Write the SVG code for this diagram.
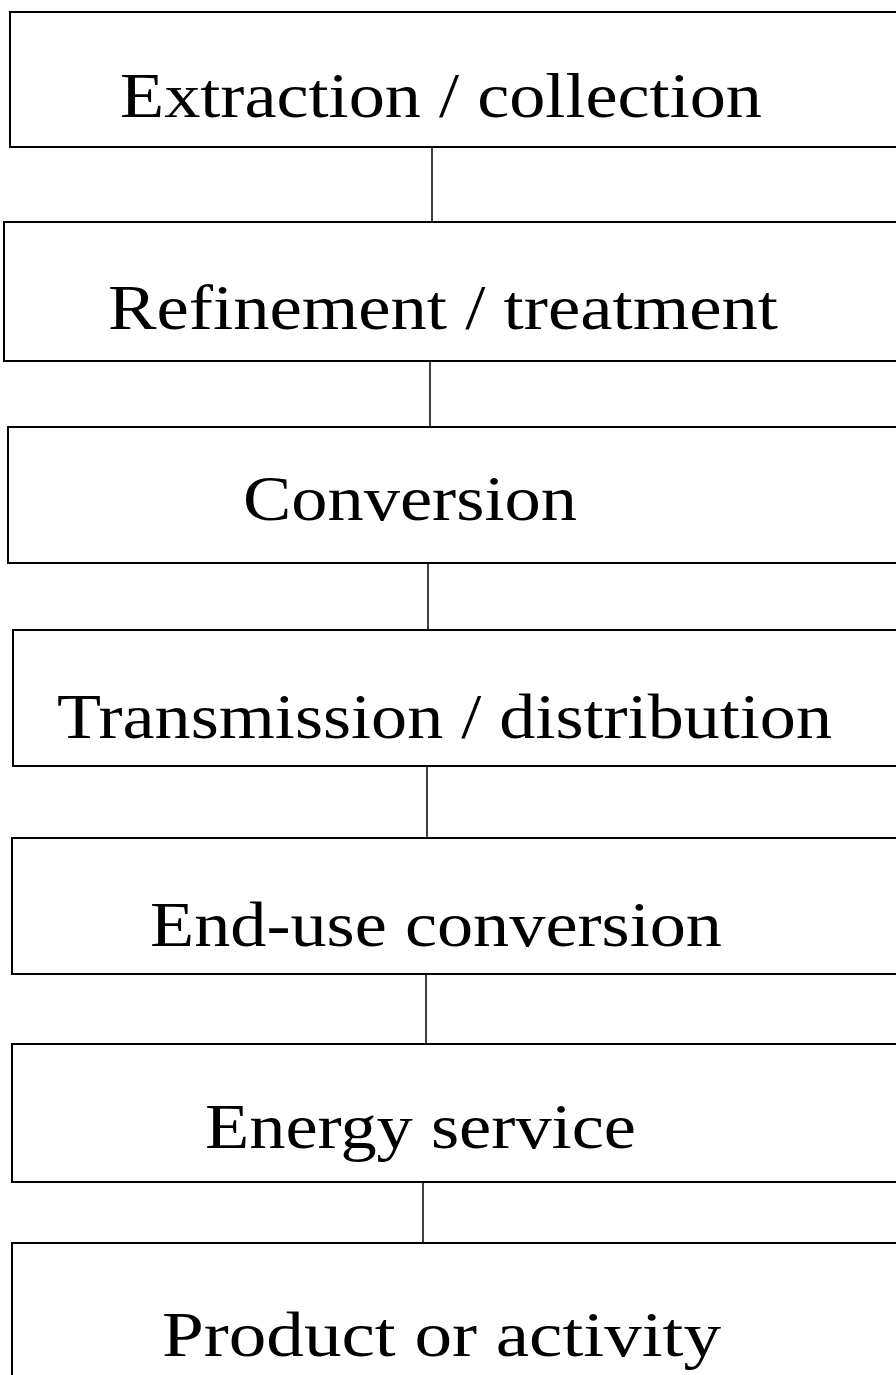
<svg xmlns="http://www.w3.org/2000/svg" width="896" height="1375" viewBox="0 0 896 1375">
<style>
.box{fill:#fff;stroke:#000;stroke-width:2}
.lbl{font-family:"Liberation Serif","Times New Roman",serif;font-size:64px;fill:#000}
.conn{stroke:#000;stroke-width:1.5;fill:none}
</style>
<rect width="896" height="1375" fill="#fff"/>
<g id="connectors">
<line class="conn" x1="432" y1="147" x2="432" y2="222"/>
<line class="conn" x1="430" y1="361" x2="430" y2="427"/>
<line class="conn" x1="428" y1="563" x2="428" y2="630"/>
<line class="conn" x1="427" y1="766" x2="427" y2="838"/>
<line class="conn" x1="426" y1="974" x2="426" y2="1044"/>
<line class="conn" x1="423" y1="1182" x2="423" y2="1243"/>
</g>
<g id="n1"><rect class="box" x="10" y="12" width="900" height="135"/><text class="lbl" x="120" y="117" textLength="642" lengthAdjust="spacingAndGlyphs">Extraction / collection</text></g>
<g id="n2"><rect class="box" x="4" y="222" width="906" height="139"/><text class="lbl" x="108" y="329" textLength="670" lengthAdjust="spacingAndGlyphs">Refinement / treatment</text></g>
<g id="n3"><rect class="box" x="8" y="427" width="902" height="136"/><text class="lbl" x="243" y="520" textLength="334" lengthAdjust="spacingAndGlyphs">Conversion</text></g>
<g id="n4"><rect class="box" x="13" y="630" width="897" height="136"/><text class="lbl" x="57" y="738" textLength="775" lengthAdjust="spacingAndGlyphs">Transmission / distribution</text></g>
<g id="n5"><rect class="box" x="12" y="838" width="898" height="136"/><text class="lbl" x="150" y="946" textLength="572" lengthAdjust="spacingAndGlyphs">End-use conversion</text></g>
<g id="n6"><rect class="box" x="12" y="1044" width="898" height="138"/><text class="lbl" x="205" y="1148" textLength="431" lengthAdjust="spacingAndGlyphs">Energy service</text></g>
<g id="n7"><rect class="box" x="12" y="1243" width="898" height="150"/><text class="lbl" x="162" y="1356" textLength="559" lengthAdjust="spacingAndGlyphs">Product or activity</text></g>
</svg>
